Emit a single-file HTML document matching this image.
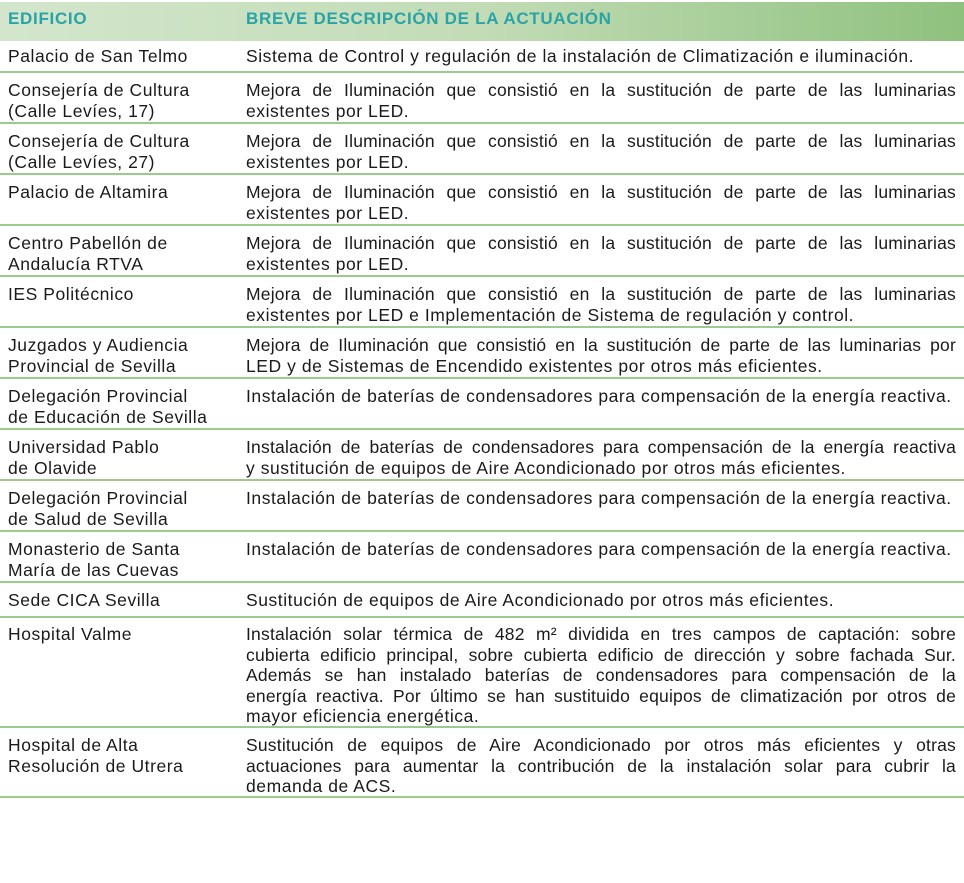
<!DOCTYPE html>
<html><head><meta charset="utf-8"><style>
body{margin:0;width:964px;height:883px;background:#fff;position:relative;font-family:"Liberation Sans",sans-serif;color:#1a1a1a;overflow:hidden}
.hdr{position:absolute;left:0;top:2px;width:964px;height:39px;background:linear-gradient(90deg,#d3e6cc 0%,#c2dcb6 50%,#8fc17e 100%)}
.ht{position:absolute;top:9px;font-weight:bold;font-size:17px;color:#2aa3a6;letter-spacing:.7px}
.ln{position:absolute;left:0;width:964px;height:2px;background:#9ccb8b}
.c1,.c2{position:absolute;font-size:17.5px;line-height:20.6px;white-space:nowrap;letter-spacing:.55px}
.c1{left:8px}
.c2{left:246px;width:710px}
.j{text-align:justify;text-align-last:justify;letter-spacing:.2px}
</style></head><body>
<div class="hdr"></div>
<div class="ht" style="left:8px">EDIFICIO</div>
<div class="ht" style="left:246px">BREVE DESCRIPCIÓN DE LA ACTUACIÓN</div>

<div class="c1" style="top:46px">Palacio de San Telmo</div>
<div class="c2" style="top:46px">Sistema de Control y regulación de la instalación de Climatización e iluminación.</div>
<div class="ln" style="top:71px"></div>

<div class="c1" style="top:80px">Consejería de Cultura<br>(Calle Levíes, 17)</div>
<div class="c2" style="top:80px"><div class="j">Mejora de Iluminación que consistió en la sustitución de parte de las luminarias</div>existentes por LED.</div>
<div class="ln" style="top:122px"></div>

<div class="c1" style="top:131px">Consejería de Cultura<br>(Calle Levíes, 27)</div>
<div class="c2" style="top:131px"><div class="j">Mejora de Iluminación que consistió en la sustitución de parte de las luminarias</div>existentes por LED.</div>
<div class="ln" style="top:173px"></div>

<div class="c1" style="top:182px">Palacio de Altamira</div>
<div class="c2" style="top:182px"><div class="j">Mejora de Iluminación que consistió en la sustitución de parte de las luminarias</div>existentes por LED.</div>
<div class="ln" style="top:224px"></div>

<div class="c1" style="top:233px">Centro Pabellón de<br>Andalucía RTVA</div>
<div class="c2" style="top:233px"><div class="j">Mejora de Iluminación que consistió en la sustitución de parte de las luminarias</div>existentes por LED.</div>
<div class="ln" style="top:275px"></div>

<div class="c1" style="top:284px">IES Politécnico</div>
<div class="c2" style="top:284px"><div class="j">Mejora de Iluminación que consistió en la sustitución de parte de las luminarias</div>existentes por LED e Implementación de Sistema de regulación y control.</div>
<div class="ln" style="top:326px"></div>

<div class="c1" style="top:335px">Juzgados y Audiencia<br>Provincial de Sevilla</div>
<div class="c2" style="top:335px"><div class="j">Mejora de Iluminación que consistió en la sustitución de parte de las luminarias por</div>LED y de Sistemas de Encendido existentes por otros más eficientes.</div>
<div class="ln" style="top:377px"></div>

<div class="c1" style="top:386px">Delegación Provincial<br>de Educación de Sevilla</div>
<div class="c2" style="top:386px">Instalación de baterías de condensadores para compensación de la energía reactiva.</div>
<div class="ln" style="top:428px"></div>

<div class="c1" style="top:437px">Universidad Pablo<br>de Olavide</div>
<div class="c2" style="top:437px"><div class="j">Instalación de baterías de condensadores para compensación de la energía reactiva</div>y sustitución de equipos de Aire Acondicionado por otros más eficientes.</div>
<div class="ln" style="top:479px"></div>

<div class="c1" style="top:488px">Delegación Provincial<br>de Salud de Sevilla</div>
<div class="c2" style="top:488px">Instalación de baterías de condensadores para compensación de la energía reactiva.</div>
<div class="ln" style="top:530px"></div>

<div class="c1" style="top:539px">Monasterio de Santa<br>María de las Cuevas</div>
<div class="c2" style="top:539px">Instalación de baterías de condensadores para compensación de la energía reactiva.</div>
<div class="ln" style="top:581px"></div>

<div class="c1" style="top:590px">Sede CICA Sevilla</div>
<div class="c2" style="top:590px">Sustitución de equipos de Aire Acondicionado por otros más eficientes.</div>
<div class="ln" style="top:616px"></div>

<div class="c1" style="top:624px">Hospital Valme</div>
<div class="c2" style="top:624px"><div class="j">Instalación solar térmica de 482 m² dividida en tres campos de captación: sobre</div><div class="j">cubierta edificio principal, sobre cubierta edificio de dirección y sobre fachada Sur.</div><div class="j">Además se han instalado baterías de condensadores para compensación de la</div><div class="j">energía reactiva. Por último se han sustituido equipos de climatización por otros de</div>mayor eficiencia energética.</div>
<div class="ln" style="top:726px"></div>

<div class="c1" style="top:735px">Hospital de Alta<br>Resolución de Utrera</div>
<div class="c2" style="top:735px"><div class="j">Sustitución de equipos de Aire Acondicionado por otros más eficientes y otras</div><div class="j">actuaciones para aumentar la contribución de la instalación solar para cubrir la</div>demanda de ACS.</div>
<div class="ln" style="top:796px"></div>
</body></html>
